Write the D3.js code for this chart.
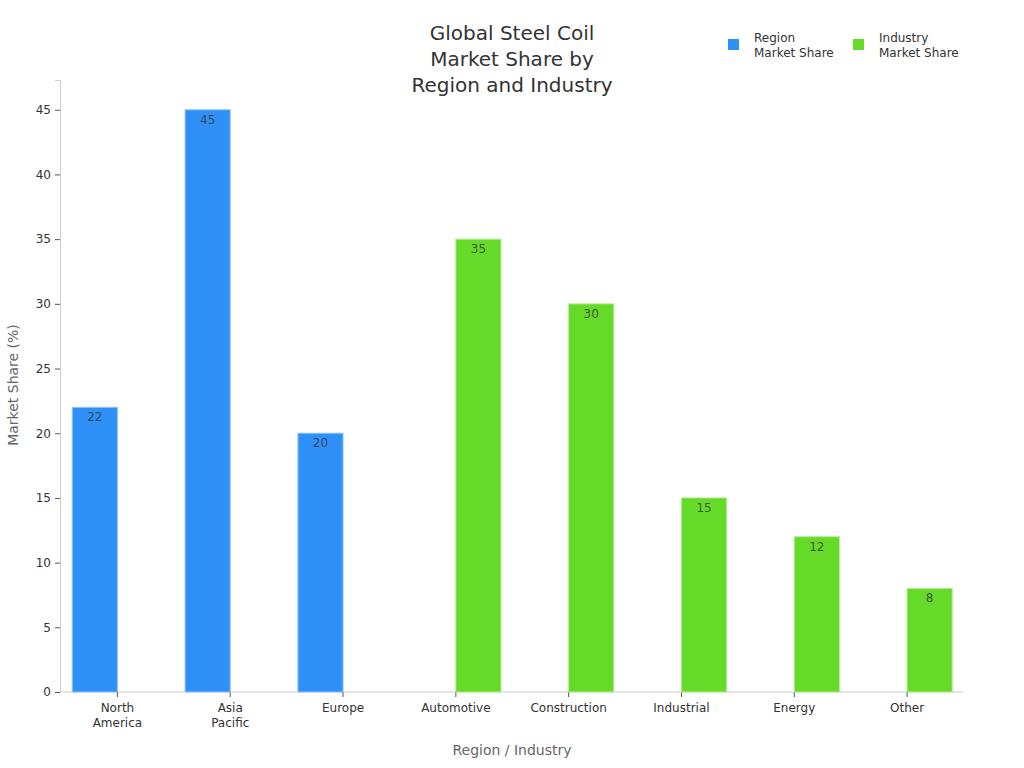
<!DOCTYPE html>
<html>
<head>
<meta charset="utf-8">
<script src="https://cdn.jsdelivr.net/npm/d3@7"></script>
<style>
  body { margin: 0; background: #fff; }
  text { font-family: "DejaVu Sans", sans-serif; }
</style>
</head>
<body>
<div id="chart"></div>
<script>
// data
let categories = ["North America", "Asia Pacific", "Europe", "Automotive", "Construction", "Industrial", "Energy", "Other"];
let regionShare = [22, 45, 20, 0, 0, 0, 0, 0];
let industryShare = [0, 0, 0, 35, 30, 15, 12, 8];
let seriesNames = ["Region Market Share", "Industry Market Share"];
let yTicks = [0, 5, 10, 15, 20, 25, 30, 35, 40, 45];

let colors = ["#2f91f7", "#66da28"];
let strokes = ["#8cc4fb", "#b4ef8f"];

let margin = { top: 80, right: 61, bottom: 76, left: 60 };
let width = 1024 - margin.left - margin.right;
let height = 768 - margin.top - margin.bottom;

let svg = d3.select("#chart")
  .append("svg")
    .attr("width", 1024)
    .attr("height", 768)
  .append("g")
    .attr("transform", `translate(${margin.left},${margin.top})`);

let x = d3.scaleBand()
  .domain(categories)
  .range([1, width + 0.5])
  .paddingInner(0.2)
  .paddingOuter(0.1);

let xSub = d3.scaleBand()
  .domain([0, 1])
  .range([0, x.bandwidth()]);

let y = d3.scaleLinear()
  .domain([0, 47.3])
  .range([height, 0]);

// y axis
svg.append("g")
  .call(d3.axisLeft(y).tickValues(yTicks).tickSize(5).tickPadding(4))
  .call(g => g.select(".domain").attr("stroke", "#ccc"))
  .call(g => g.selectAll(".tick line").attr("stroke", "#555"))
  .call(g => g.selectAll(".tick text").attr("fill", "#333").style("font-size", "12px"));

// x axis, ticks at group centres
let xAxis = svg.append("g")
  .attr("transform", `translate(0,${height})`)
  .call(d3.axisBottom(x).tickSize(5).tickPadding(6))
  .call(g => g.select(".domain").attr("stroke", "#ccc").attr("d", `M0.5,0H${width + 0.5}`))
  .call(g => g.selectAll(".tick line").attr("stroke", "#555"));

xAxis.selectAll(".tick text")
  .attr("fill", "#333")
  .style("font-size", "12px")
  .each(function (d) {
    let t = d3.select(this);
    let words = d.split(" ");
    t.text(null);
    words.forEach((w, i) => {
      t.append("tspan")
        .attr("x", 0)
        .attr("dy", i === 0 ? "0.71em" : "1.25em")
        .text(w);
    });
  });

// bars
let rows = categories.map((c, i) => ({ cat: c, vals: [regionShare[i], industryShare[i]] }));

let groups = svg.selectAll(".group")
  .data(rows)
  .join("g")
  .attr("class", "group")
  .attr("transform", d => `translate(${x(d.cat)},0)`);

groups.selectAll("rect")
  .data(d => d.vals.map((v, k) => ({ v, k })))
  .join("rect")
  .attr("x", d => xSub(d.k))
  .attr("width", xSub.bandwidth())
  .attr("y", d => y(d.v))
  .attr("height", d => height - y(d.v))
  .attr("fill", d => colors[d.k])
  .attr("stroke", d => d.v > 0 ? strokes[d.k] : "#eee")
  .attr("stroke-width", 1);

groups.selectAll(".val")
  .data(d => d.vals.map((v, k) => ({ v, k })).filter(d => d.v > 0))
  .join("text")
  .attr("class", "val")
  .attr("x", d => xSub(d.k) + xSub.bandwidth() / 2)
  .attr("y", d => y(d.v) + 14)
  .attr("text-anchor", "middle")
  .style("font-size", "12px")
  .attr("fill", "#333")
  .attr("fill-opacity", 0.8)
  .text(d => d.v);

// title
let title = svg.append("text")
  .attr("x", 512 - margin.left)
  .attr("y", 40 - margin.top)
  .attr("text-anchor", "middle")
  .style("font-size", "20px")
  .attr("fill", "#333");
["Global Steel Coil", "Market Share by", "Region and Industry"].forEach((l, i) => {
  title.append("tspan")
    .attr("x", 512 - margin.left)
    .attr("dy", i === 0 ? 0 : 26)
    .text(l);
});

// axis titles
svg.append("text")
  .attr("transform", "rotate(-90)")
  .attr("x", -(385 - margin.top))
  .attr("y", 18 - margin.left)
  .attr("text-anchor", "middle")
  .style("font-size", "14px")
  .attr("fill", "#666")
  .text("Market Share (%)");

svg.append("text")
  .attr("x", 512 - margin.left)
  .attr("y", 755 - margin.top)
  .attr("text-anchor", "middle")
  .style("font-size", "14px")
  .attr("fill", "#666")
  .text("Region / Industry");

// legend
let legendX = [728, 853];
seriesNames.forEach((name, i) => {
  let lg = svg.append("g")
    .attr("transform", `translate(${legendX[i] - margin.left},${39 - margin.top})`);
  lg.append("rect")
    .attr("width", 11)
    .attr("height", 11)
    .attr("fill", colors[i]);
  let words = name.split(" ");
  let t = lg.append("text")
    .attr("x", 26)
    .attr("y", 3)
    .style("font-size", "12px")
    .attr("fill", "#333");
  t.append("tspan").attr("x", 26).attr("dy", 0).text(words[0]);
  t.append("tspan").attr("x", 26).attr("dy", 15).text(words.slice(1).join(" "));
});
</script>
</body>
</html>
